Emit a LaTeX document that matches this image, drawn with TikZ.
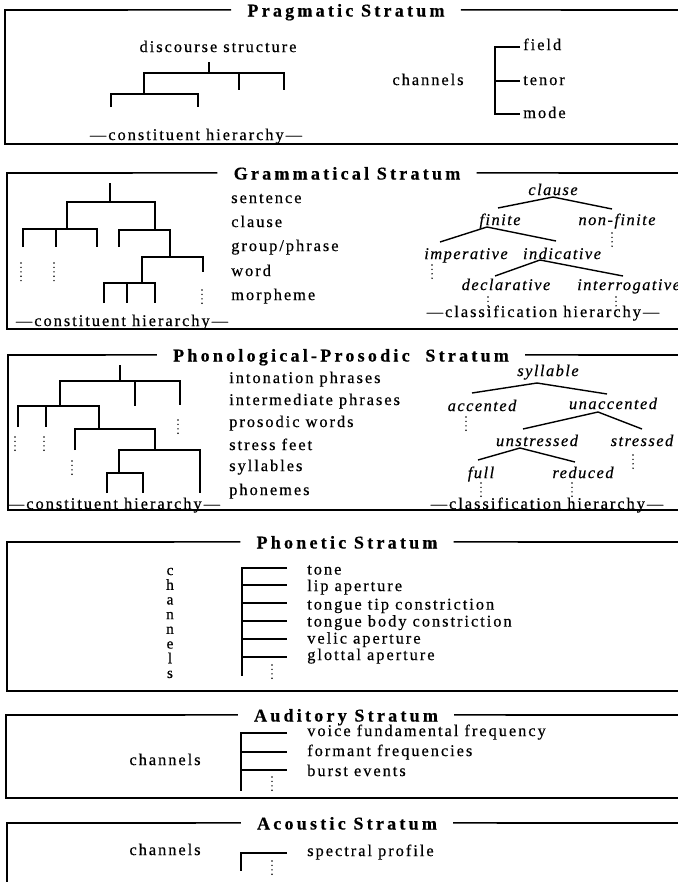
\documentclass[tikz,border=0pt]{standalone}
\usepackage{fontspec}
\setmainfont{Liberation Serif}
\newfontfamily\trk[LetterSpace=12,FakeBold=0.5]{Liberation Serif}
\newfontfamily\itrk[LetterSpace=9,FakeBold=0.5]{Liberation Serif}
\newfontfamily\ttrk[LetterSpace=18,FakeBold=0.6]{Liberation Serif}
\newfontfamily\plain[FakeBold=0.5]{Liberation Serif}

\tikzset{
  rule/.style={line width=1.15pt},
  tree/.style={line width=1.25pt},
  thin/.style={line width=1.05pt},
  vdts/.style={line width=1.2pt, line cap=round, dash pattern=on 0pt off 3.3pt},
  ttl/.style={font=\fontsize{13.5pt}{15pt}\ttrk\bfseries, inner xsep=12pt, inner ysep=0pt, anchor=base},
  lvl/.style={font=\fontsize{12.3pt}{14pt}\trk, inner sep=0pt, anchor=mid west},
  lbl/.style={font=\fontsize{12.3pt}{14pt}\trk, inner sep=0pt, anchor=mid},
  cls/.style={font=\fontsize{12.3pt}{14pt}\itrk\itshape, inner sep=0pt, anchor=mid},
  vch/.style={font=\fontsize{11.5pt}{13pt}\plain, inner sep=0pt, anchor=mid},
}

\begin{document}
\begin{tikzpicture}[x=0.75pt,y=-0.75pt]
\useasboundingbox (0,0) rectangle (678,882);

% ---------------- Pragmatic stratum ----------------
\node[ttl] (t1) at (346,16.5) {Pragmatic Stratum};
\draw[rule] ([yshift=4.9pt]t1.base west) -- (5,10) -- (5,144) -- (680,144);
\draw[rule] ([yshift=4.9pt]t1.base east) -- (680,10);

\node[lbl] (ds) at (218,49) {discourse structure};
\draw[tree] (209,62) -- (209,73);
\draw[tree] (144,94) -- (144,73) -- (284,73) -- (284,90);
\draw[tree] (239,73) -- (239,90);
\draw[tree] (111,107) -- (111,94) -- (198,94) -- (198,107);
\node[lbl] (pch) at (196,137) {—constituent hierarchy—};

\node[lbl] (pchan) at (428,82) {channels};
\node[lvl] (fld) at (523,47) {field};
\node[lvl] (ten) at (523,82) {tenor};
\node[lvl] (mde) at (523,115) {mode};
\draw[rule] (520,47) -- (495,47) -- (495,114) -- (520,114);
\draw[rule] (495,81) -- (520,81);

% ---------------- Grammatical stratum ----------------
\node[ttl] (t2) at (347,179.5) {Grammatical Stratum};
\draw[rule] ([yshift=4.9pt]t2.base west) -- (7,173) -- (7,329) -- (680,329);
\draw[rule] ([yshift=4.9pt]t2.base east) -- (680,173);

% constituent tree
\draw[tree] (110,183) -- (110,202);
\draw[tree] (67,229) -- (67,202) -- (155,202) -- (155,230);
\draw[tree] (23,247) -- (23,229) -- (97,229) -- (97,247);
\draw[tree] (56,229) -- (56,247);
\draw[tree] (119,247) -- (119,230) -- (170,230) -- (170,257);
\draw[tree] (142,283) -- (142,257) -- (203,257) -- (203,272);
\draw[tree] (104,303) -- (104,283) -- (155,283) -- (155,303);
\draw[tree] (127,283) -- (127,303);
\draw[vdts] (21,263) -- (21,284);
\draw[vdts] (54,263) -- (54,284);
\draw[vdts] (202,290) -- (202,304);
\node[lbl] (gch) at (122,323) {—constituent hierarchy—};

\node[lvl] (g1) at (231,200) {sentence};
\node[lvl] (g2) at (231,224) {clause};
\node[lvl] (g3) at (231,248) {group/phrase};
\node[lvl] (g4) at (231,273) {word};
\node[lvl] (g5) at (231,297) {morpheme};

% classification tree
\node[cls] (gc0) at (553,192) {clause};
\node[cls] (gc1) at (500,222) {finite};
\node[cls] (gc2) at (617,222) {non-finite};
\node[cls] (gc3) at (466,256) {imperative};
\node[cls] (gc4) at (562,256) {indicative};
\node[cls] (gc5) at (506,287) {declarative};
\node[cls, anchor=mid west] (gc6) at (577,287) {interrogative};
\draw[thin] (553,197) -- (498,208);
\draw[thin] (553,197) -- (612,209);
\draw[thin] (487,227) -- (440,242);
\draw[thin] (487,227) -- (556,241);
\draw[thin] (540,260) -- (495,276);
\draw[thin] (540,260) -- (623,276);
\draw[vdts] (612,233) -- (612,248);
\draw[vdts] (432,265) -- (432,279);
\draw[vdts] (488,297) -- (488,311);
\draw[vdts] (616,297) -- (616,311);
\node[lbl] (gcc) at (543,314) {—classification hierarchy—};

% ---------------- Phonological-prosodic stratum ----------------
\node[ttl] (t3) at (341,361.5) {Phonological-Prosodic\hspace{6pt} Stratum};
\draw[rule] ([yshift=4.9pt]t3.base west) -- (8,355) -- (8,510) -- (680,510);
\draw[rule] ([yshift=4.9pt]t3.base east) -- (680,355);

% constituent tree
\draw[tree] (120,365) -- (120,381);
\draw[tree] (60,406) -- (60,381) -- (180,381) -- (180,405);
\draw[tree] (135,381) -- (135,406);
\draw[tree] (18,427) -- (18,406) -- (99,406) -- (99,429);
\draw[tree] (46,406) -- (46,427);
\draw[tree] (75,450) -- (75,429) -- (155,429) -- (155,450);
\draw[tree] (119,473) -- (119,450) -- (200,450) -- (200,493);
\draw[tree] (107,493) -- (107,473) -- (143,473) -- (143,493);
\draw[vdts] (178,420) -- (178,434);
\draw[vdts] (15,437) -- (15,452);
\draw[vdts] (44,437) -- (44,452);
\draw[vdts] (72,461) -- (72,475);
\node[lbl] (fch) at (114,506) {—constituent hierarchy—};

\node[lvl] (f1) at (229,380) {intonation phrases};
\node[lvl] (f2) at (229,402) {intermediate phrases};
\node[lvl] (f3) at (229,424) {prosodic words};
\node[lvl] (f4) at (229,447) {stress feet};
\node[lvl] (f5) at (229,468) {syllables};
\node[lvl] (f6) at (229,492) {phonemes};

% classification tree
\node[cls] (fc0) at (548,373) {syllable};
\node[cls] (fc1) at (482,408) {accented};
\node[cls] (fc2) at (613,406) {unaccented};
\node[cls] (fc3) at (537,443) {unstressed};
\node[cls] (fc4) at (642,443) {stressed};
\node[cls] (fc5) at (481,475) {full};
\node[cls] (fc6) at (583,475) {reduced};
\draw[thin] (537,383) -- (472,393);
\draw[thin] (537,383) -- (607,394);
\draw[thin] (598,412) -- (523,429);
\draw[thin] (598,412) -- (642,429);
\draw[thin] (520,448) -- (478,460);
\draw[thin] (520,448) -- (575,462);
\draw[vdts] (466,417) -- (466,431);
\draw[vdts] (633,455) -- (633,469);
\draw[vdts] (481,483) -- (481,497);
\draw[vdts] (572,483) -- (572,497);
\node[lbl] (fcc) at (547,506) {—classification hierarchy—};

% ---------------- Phonetic stratum ----------------
\node[ttl] (t4) at (347,548.5) {Phonetic Stratum};
\draw[rule] ([yshift=4.9pt]t4.base west) -- (7,542) -- (7,691) -- (680,691);
\draw[rule] ([yshift=4.9pt]t4.base east) -- (680,542);

\foreach \c [count=\i from 0] in {c,h,a,n,n,e,l,s}
  \node[vch] (vc\i) at (170,572+14.7*\i) {\c};

\draw[rule] (287,568) -- (242,568) -- (242,676);
\foreach \yy in {585,603,621,639,657}
  \draw[rule] (242,\yy) -- (287,\yy);
\draw[vdts] (272,665) -- (272,680);
\node[lvl] (p1) at (307,571.5) {tone};
\node[lvl] (p2) at (307,588) {lip aperture};
\node[lvl] (p3) at (307,606.5) {tongue tip constriction};
\node[lvl] (p4) at (307,623.5) {tongue body constriction};
\node[lvl] (p5) at (307,640.5) {velic aperture};
\node[lvl] (p6) at (307,657) {glottal aperture};

% ---------------- Auditory stratum ----------------
\node[ttl] (t5) at (346,721.5) {Auditory Stratum};
\draw[rule] ([yshift=4.9pt]t5.base west) -- (6,715) -- (6,798) -- (680,798);
\draw[rule] ([yshift=4.9pt]t5.base east) -- (680,715);

\node[lbl] (achan) at (165,762) {channels};
\draw[rule] (287,733) -- (241,733) -- (241,791);
\draw[rule] (241,752) -- (287,752);
\draw[rule] (241,770) -- (287,770);
\draw[vdts] (272,777) -- (272,791);
\node[lvl] (a1) at (307,733) {voice fundamental frequency};
\node[lvl] (a2) at (307,753) {formant frequencies};
\node[lvl] (a3) at (307,773) {burst events};

% ---------------- Acoustic stratum ----------------
\node[ttl] (t6) at (347,829.5) {Acoustic Stratum};
\draw[rule] ([yshift=4.9pt]t6.base west) -- (7,823) -- (7,885);
\draw[rule] ([yshift=4.9pt]t6.base east) -- (680,823);

\node[lbl] (cchan) at (165,852) {channels};
\draw[rule] (287,853) -- (241,853) -- (241,871);
\draw[vdts] (272,861) -- (272,875);
\node[lvl] (c1) at (307,853) {spectral profile};

\end{tikzpicture}
\end{document}
